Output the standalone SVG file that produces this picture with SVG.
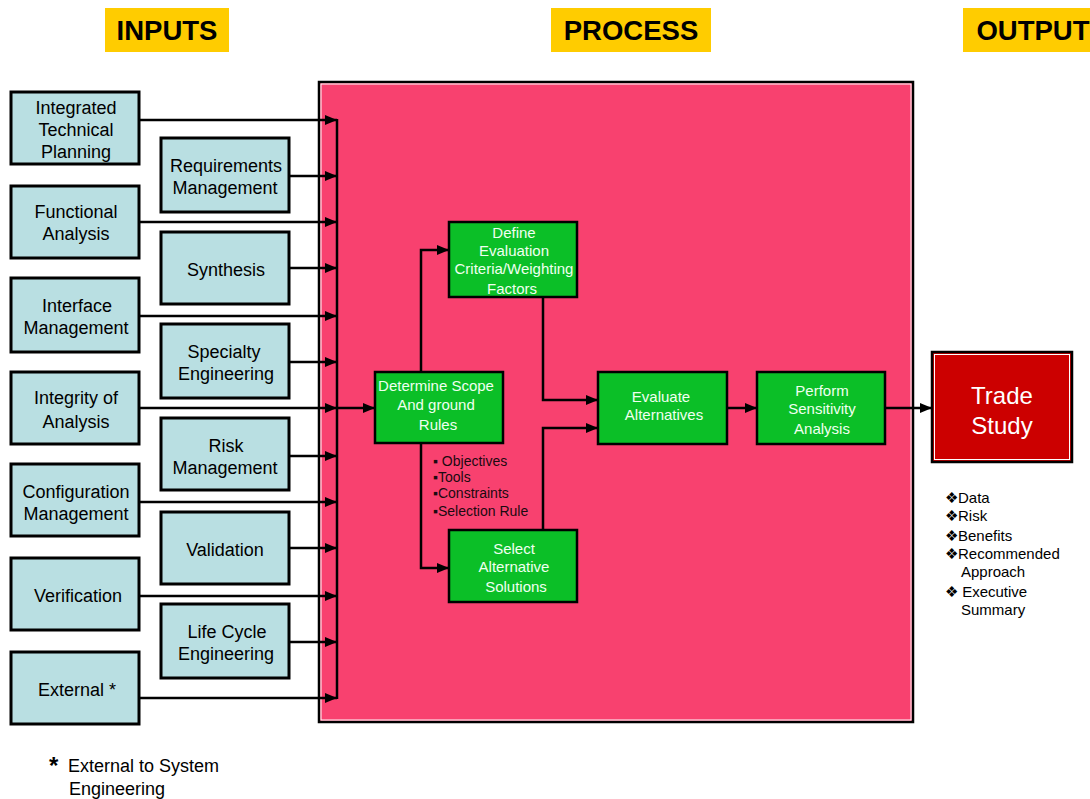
<svg xmlns="http://www.w3.org/2000/svg" width="1090" height="799" viewBox="0 0 1090 799">
<defs>
<marker id="arr" markerWidth="12" markerHeight="10" refX="12" refY="5" orient="auto" markerUnits="userSpaceOnUse"><path d="M0,0 L12,5 L0,10 Z" fill="#000"/></marker>
<style>
.hdr{fill:#ffcc00}
.hdrt{font-family:"Liberation Sans",Arial,sans-serif;font-weight:bold;font-size:27.5px;fill:#000;text-anchor:middle}
.in{fill:#b9dfe2;stroke:#000;stroke-width:3}
.int{font-family:"Liberation Sans",Arial,sans-serif;font-size:18px;fill:#000;text-anchor:middle}
.gr{fill:#0bbf27;stroke:#000;stroke-width:2.5}
.grt{font-family:"Liberation Sans",Arial,sans-serif;font-size:15px;fill:#f0fff0;text-anchor:middle}
.ln{fill:none;stroke:#000;stroke-width:2.5}
.sm{font-family:"Liberation Sans",Arial,sans-serif;font-size:14px;fill:#1a0a10}
.out{font-family:"Liberation Sans",Arial,sans-serif;font-size:15px;fill:#000}
.ft{font-family:"Liberation Sans",Arial,sans-serif;font-size:18px;fill:#000}
</style>
</defs>
<rect width="1090" height="799" fill="#fff"/>
<g id="headers">
<rect class="hdr" x="105" y="8" width="124" height="44"/><text class="hdrt" x="167" y="40">INPUTS</text>
<rect class="hdr" x="551" y="8" width="160" height="44"/><text class="hdrt" x="631" y="40">PROCESS</text>
<rect class="hdr" x="963" y="8" width="127" height="44"/><text class="hdrt" x="1033" y="40">OUTPUT</text>
</g>
<g id="process-panel">
<rect x="319" y="82" width="594" height="640" fill="#f8416f" stroke="#000" stroke-width="2.5"/>
<rect x="321" y="84" width="590" height="636" fill="none" stroke="#fff" stroke-width="1"/>
</g>
<g id="connectors">
<line class="ln" x1="337" y1="119" x2="337" y2="699"/>
<line class="ln" x1="139" y1="120" x2="337" y2="120" marker-end="url(#arr)"/>
<line class="ln" x1="139" y1="222" x2="337" y2="222" marker-end="url(#arr)"/>
<line class="ln" x1="139" y1="316" x2="337" y2="316" marker-end="url(#arr)"/>
<line class="ln" x1="139" y1="408" x2="337" y2="408" marker-end="url(#arr)"/>
<line class="ln" x1="139" y1="502" x2="337" y2="502" marker-end="url(#arr)"/>
<line class="ln" x1="139" y1="596" x2="337" y2="596" marker-end="url(#arr)"/>
<line class="ln" x1="139" y1="698" x2="337" y2="698" marker-end="url(#arr)"/>
<line class="ln" x1="289" y1="176" x2="337" y2="176" marker-end="url(#arr)"/>
<line class="ln" x1="289" y1="268" x2="337" y2="268" marker-end="url(#arr)"/>
<line class="ln" x1="289" y1="362" x2="337" y2="362" marker-end="url(#arr)"/>
<line class="ln" x1="289" y1="456" x2="337" y2="456" marker-end="url(#arr)"/>
<line class="ln" x1="289" y1="548" x2="337" y2="548" marker-end="url(#arr)"/>
<line class="ln" x1="289" y1="642" x2="337" y2="642" marker-end="url(#arr)"/>
<line class="ln" x1="337" y1="408" x2="375" y2="408" marker-end="url(#arr)"/>
<polyline class="ln" points="421,372 421,250 449,250" marker-end="url(#arr)"/>
<polyline class="ln" points="421,443 421,568 449,568" marker-end="url(#arr)"/>
<polyline class="ln" points="543,297 543,400 598,400" marker-end="url(#arr)"/>
<polyline class="ln" points="543,530 543,428 598,428" marker-end="url(#arr)"/>
<line class="ln" x1="727" y1="408" x2="757" y2="408" marker-end="url(#arr)"/>
<line class="ln" x1="885" y1="408" x2="932" y2="408" marker-end="url(#arr)"/>
</g>
<g id="n-itp"><rect class="in" x="11" y="92" width="128" height="72"/><text class="int" x="76" y="114">Integrated</text><text class="int" x="76" y="136">Technical</text><text class="int" x="76" y="158">Planning</text></g>
<g id="n-fa"><rect class="in" x="11" y="186" width="128" height="72"/><text class="int" x="76" y="218">Functional</text><text class="int" x="76" y="240">Analysis</text></g>
<g id="n-im"><rect class="in" x="11" y="278" width="128" height="74"/><text class="int" x="77" y="312">Interface</text><text class="int" x="76" y="334">Management</text></g>
<g id="n-ia"><rect class="in" x="11" y="372" width="128" height="72"/><text class="int" x="76" y="404">Integrity of</text><text class="int" x="76" y="428">Analysis</text></g>
<g id="n-cm"><rect class="in" x="11" y="464" width="128" height="72"/><text class="int" x="76" y="498">Configuration</text><text class="int" x="76" y="520">Management</text></g>
<g id="n-ver"><rect class="in" x="11" y="558" width="128" height="72"/><text class="int" x="78" y="602">Verification</text></g>
<g id="n-ext"><rect class="in" x="11" y="652" width="128" height="72"/><text class="int" x="77" y="696">External *</text></g>
<g id="n-rm"><rect class="in" x="161" y="138" width="128" height="74"/><text class="int" x="226" y="172">Requirements</text><text class="int" x="225" y="194">Management</text></g>
<g id="n-syn"><rect class="in" x="161" y="232" width="128" height="72"/><text class="int" x="226" y="276">Synthesis</text></g>
<g id="n-se"><rect class="in" x="161" y="324" width="128" height="74"/><text class="int" x="224" y="358">Specialty</text><text class="int" x="226" y="380">Engineering</text></g>
<g id="n-risk"><rect class="in" x="161" y="418" width="128" height="72"/><text class="int" x="226" y="452">Risk</text><text class="int" x="225" y="474">Management</text></g>
<g id="n-val"><rect class="in" x="161" y="512" width="128" height="72"/><text class="int" x="225" y="556">Validation</text></g>
<g id="n-lce"><rect class="in" x="161" y="604" width="128" height="74"/><text class="int" x="227" y="638">Life Cycle</text><text class="int" x="226" y="660">Engineering</text></g>
<g id="n-scope"><rect class="gr" x="375" y="372" width="128" height="71"/><text class="grt" x="436" y="391">Determine Scope</text><text class="grt" x="436" y="410">And ground</text><text class="grt" x="438" y="430">Rules</text></g>
<g id="n-define"><rect class="gr" x="449" y="222" width="128" height="75"/><text class="grt" x="514" y="238">Define</text><text class="grt" x="514" y="256">Evaluation</text><text class="grt" x="514" y="274">Criteria/Weighting</text><text class="grt" x="512" y="294">Factors</text></g>
<g id="n-select"><rect class="gr" x="449" y="530" width="128" height="72"/><text class="grt" x="514" y="554">Select</text><text class="grt" x="514" y="572">Alternative</text><text class="grt" x="516" y="592">Solutions</text></g>
<g id="n-eval"><rect class="gr" x="598" y="372" width="129" height="72"/><text class="grt" x="661" y="402">Evaluate</text><text class="grt" x="664" y="420">Alternatives</text></g>
<g id="n-perf"><rect class="gr" x="757" y="372" width="128" height="72"/><text class="grt" x="822" y="396">Perform</text><text class="grt" x="822" y="414">Sensitivity</text><text class="grt" x="822" y="434">Analysis</text></g>
<g id="n-trade"><rect x="932" y="352" width="140" height="110" fill="#cc0000" stroke="#000" stroke-width="2.5"/><rect x="934.5" y="354.5" width="135" height="105" fill="none" stroke="#fff" stroke-width="1"/><text x="1002" y="404" font-family="Liberation Sans, Arial, sans-serif" font-size="24" fill="#fff" text-anchor="middle">Trade</text><text x="1002" y="434" font-family="Liberation Sans, Arial, sans-serif" font-size="24" fill="#fff" text-anchor="middle">Study</text></g>
<g id="scope-notes">
<text class="sm" x="433" y="466">▪ Objectives</text>
<text class="sm" x="433" y="482">▪Tools</text>
<text class="sm" x="433" y="498">▪Constraints</text>
<text class="sm" x="433" y="516">▪Selection Rule</text>
</g>
<g id="output-notes">
<text class="out" x="945" y="503">❖Data</text>
<text class="out" x="945" y="521">❖Risk</text>
<text class="out" x="945" y="541">❖Benefits</text>
<text class="out" x="945" y="559">❖Recommended</text>
<text class="out" x="961" y="577">Approach</text>
<text class="out" x="945" y="597">❖ Executive</text>
<text class="out" x="961" y="615">Summary</text>
</g>
<g id="footnote">
<text x="49" y="774" font-family="Liberation Sans, Arial, sans-serif" font-size="24" font-weight="bold" fill="#000">*</text>
<text class="ft" x="68" y="772">External to System</text>
<text class="ft" x="69" y="795">Engineering</text>
</g>
</svg>
